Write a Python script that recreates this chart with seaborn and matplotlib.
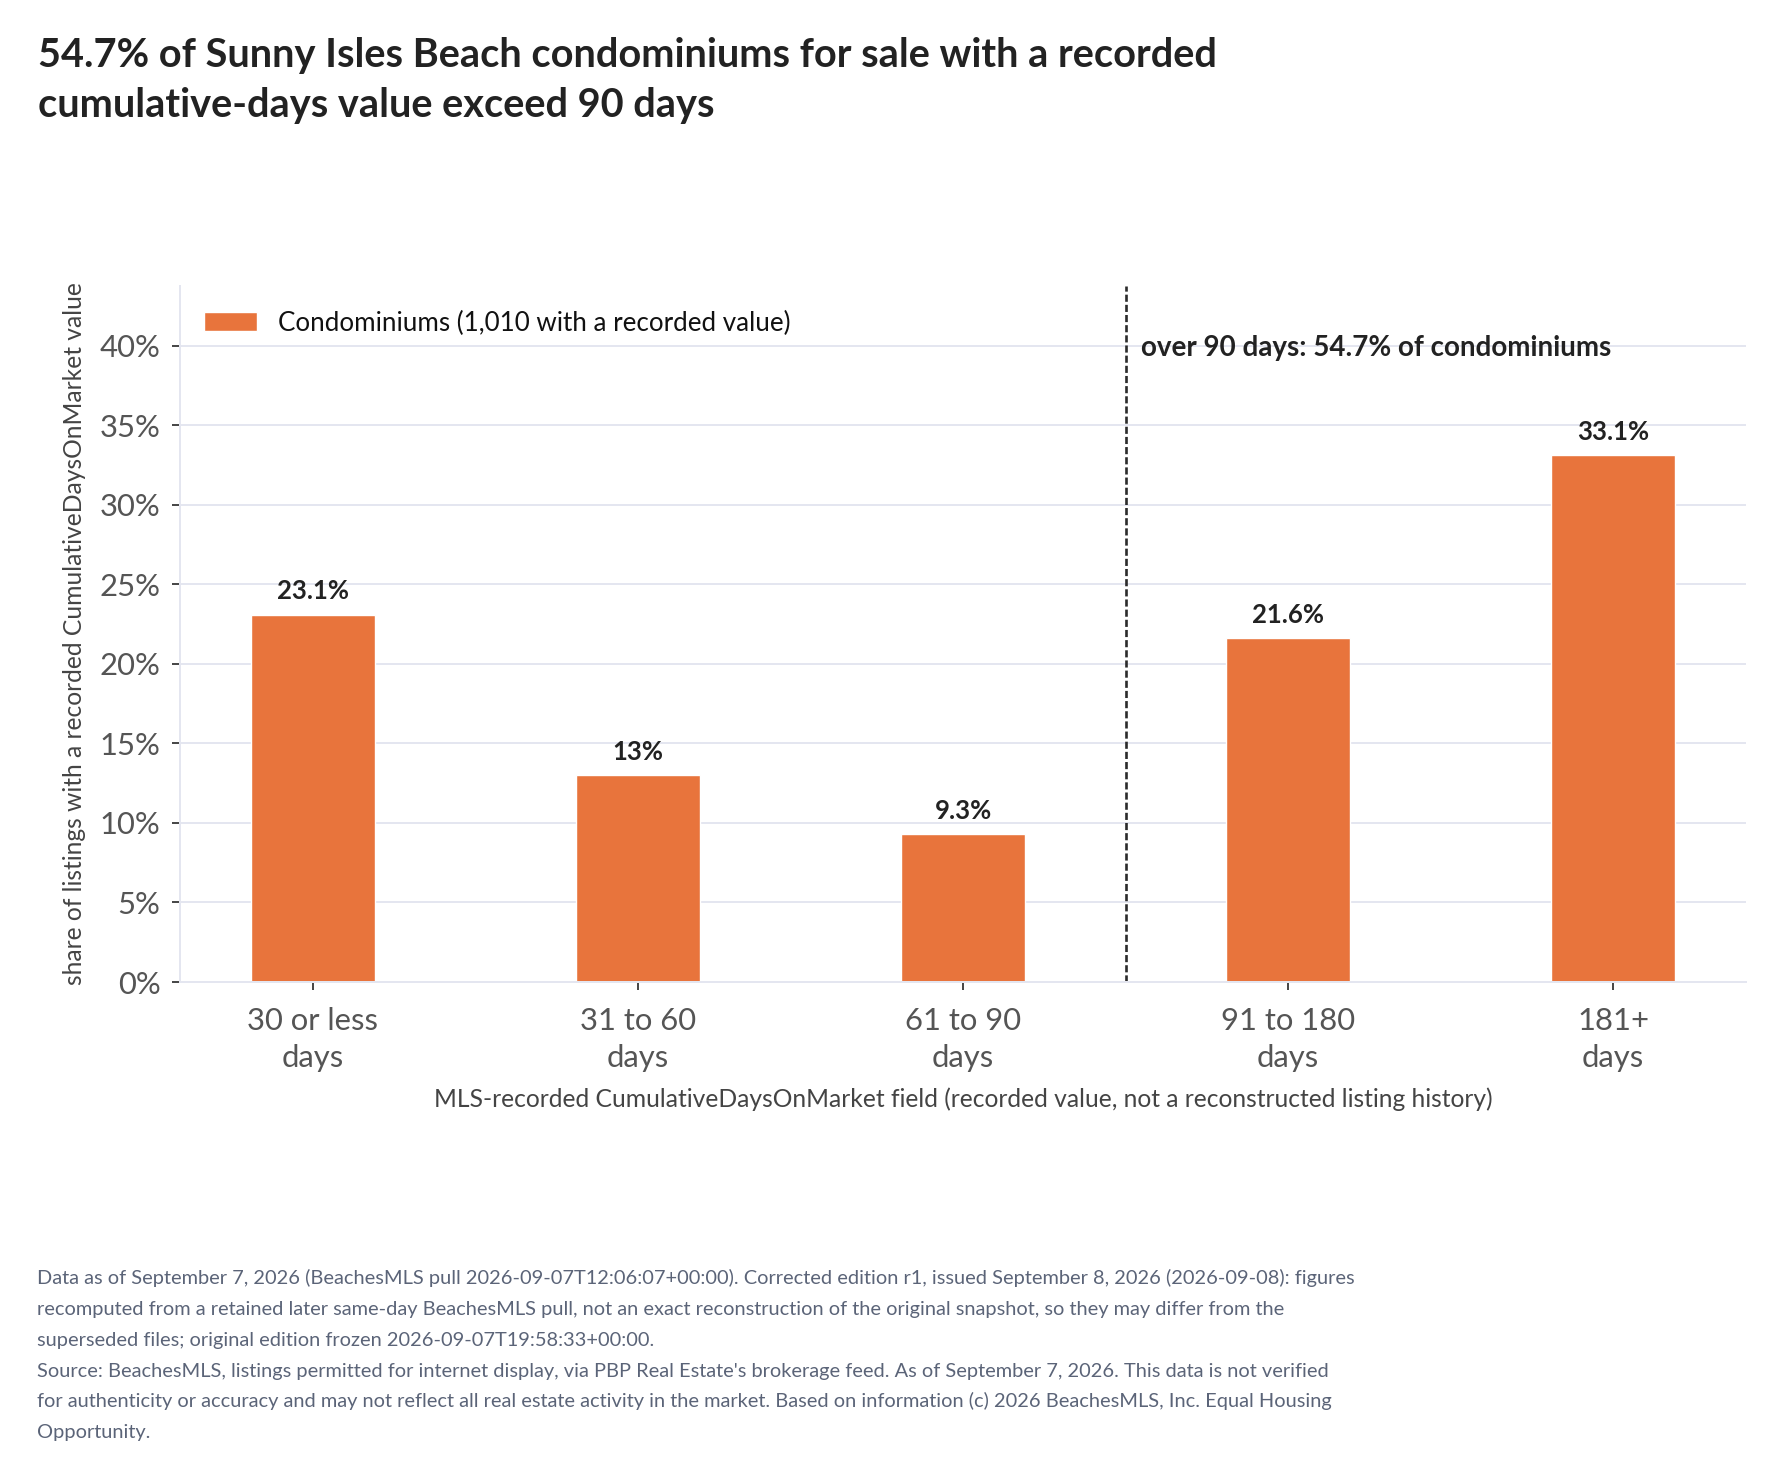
import matplotlib
matplotlib.use("Agg")
import matplotlib.pyplot as plt
import seaborn as sns
import pandas as pd

# ---- data ----
buckets = ["30 or less\ndays", "31 to 60\ndays", "61 to 90\ndays", "91 to 180\ndays", "181+\ndays"]
shares = [23.1, 13.0, 9.3, 21.6, 33.1]
series_name = "Condominiums (1,010 with a recorded value)"
y_ticks = [0, 5, 10, 15, 20, 25, 30, 35, 40]
y_tick_labels = [f"{t}%" for t in y_ticks]
threshold_note = "over 90 days: 54.7% of condominiums"
title_lines = [
    "54.7% of Sunny Isles Beach condominiums for sale with a recorded",
    "cumulative-days value exceed 90 days",
]
x_label = "MLS-recorded CumulativeDaysOnMarket field (recorded value, not a reconstructed listing history)"
y_label = "share of listings with a recorded CumulativeDaysOnMarket value"
footer_lines = [
    "Data as of September 7, 2026 (BeachesMLS pull 2026-09-07T12:06:07+00:00). Corrected edition r1, issued September 8, 2026 (2026-09-08): figures",
    "recomputed from a retained later same-day BeachesMLS pull, not an exact reconstruction of the original snapshot, so they may differ from the",
    "superseded files; original edition frozen 2026-09-07T19:58:33+00:00.",
    "Source: BeachesMLS, listings permitted for internet display, via PBP Real Estate's brokerage feed. As of September 7, 2026. This data is not verified",
    "for authenticity or accuracy and may not reflect all real estate activity in the market. Based on information (c) 2026 BeachesMLS, Inc. Equal Housing",
    "Opportunity.",
]

df = pd.DataFrame({"bucket": buckets, "share": shares, "series": series_name})

# ---- style ----
sns.set_theme(style="white")
plt.rcParams["font.family"] = ["Lato", "DejaVu Sans"]

BAR = "#E8743C"
GRID = "#E4E6F0"
W, H = 1782, 1477
fig = plt.figure(figsize=(W / 100, H / 100), dpi=100)
ax_l, ax_r, ax_t, ax_b = 180, 1746, 286, 982
ax = fig.add_axes([ax_l / W, 1 - ax_b / H, (ax_r - ax_l) / W, (ax_b - ax_t) / H])

sns.barplot(data=df, x="bucket", y="share", hue="series", palette=[BAR],
            width=0.38, ax=ax, saturation=1, legend=True)

ax.set_xlim(-0.409, 4.409)
ax.set_ylim(0, 43.75)
ax.set_yticks(y_ticks)
ax.set_yticklabels(y_tick_labels)
ax.set_xticks(range(len(buckets)))
ax.set_xticklabels(buckets, linespacing=1.4)

ax.set_axisbelow(True)
ax.grid(axis="y", color=GRID, lw=1.44)
ax.grid(axis="x", visible=False)
for s in ["top", "right"]:
    ax.spines[s].set_visible(False)
for s in ["left", "bottom"]:
    ax.spines[s].set_color(GRID)
    ax.spines[s].set_linewidth(1.44)

ax.tick_params(axis="y", which="major", left=True, length=6, width=1.4,
               color="#444444", labelsize=22.3, labelcolor="#555555", pad=8)
ax.tick_params(axis="x", which="major", bottom=True, length=6, width=1.4,
               color="#444444", labelsize=22.3, labelcolor="#555555", pad=12)

# bar value labels
for i, v in enumerate(shares):
    ax.annotate(f"{v:g}%", xy=(i, v), xytext=(0, 8), textcoords="offset points",
                ha="center", va="bottom", fontsize=18.5, fontweight="bold", color="#222222")

# threshold divider and note
ax.axvline(2.5, color="#2b2b2b", lw=1.9, dashes=(2.7, 1.15))
ax.annotate(threshold_note, xy=(2.5, 40), xytext=(11.5, -1.5), textcoords="offset points",
            ha="left", va="center", fontsize=20, fontweight="bold", color="#222222")

# axis labels
ax.set_xlabel(x_label, fontsize=17.7, color="#444444")
ax.xaxis.label.set_va("center")
ax.xaxis.set_label_coords(0.5, (ax_b - 1099) / (ax_b - ax_t))
ax.set_ylabel(y_label, fontsize=17.7, color="#444444")
ax.yaxis.label.set_va("center")
ax.yaxis.set_label_coords((75 - ax_l) / (ax_r - ax_l), 0.5)

# legend
handles, labels = ax.get_legend_handles_labels()
ax.legend(handles, labels, loc="center left", bbox_to_anchor=(204 / W, 1 - 323 / H),
          bbox_transform=fig.transFigure, frameon=False, fontsize=18.7,
          handlelength=2.05, handleheight=0.7, handletextpad=0.8,
          borderpad=0, borderaxespad=0, labelcolor="#111111")

# title
for k, line in enumerate(title_lines):
    fig.text(38 / W, 1 - (66.7 + 50 * k) / H, line, ha="left", va="baseline",
             fontsize=28.6, fontweight="bold", color="#222222")

# footer
for k, line in enumerate(footer_lines):
    fig.text(37 / W, 1 - (1284.3 + 30.8 * k) / H, line, ha="left", va="baseline",
             fontsize=14.4, color="#5B6478")

fig.savefig("out.png", dpi=100)
